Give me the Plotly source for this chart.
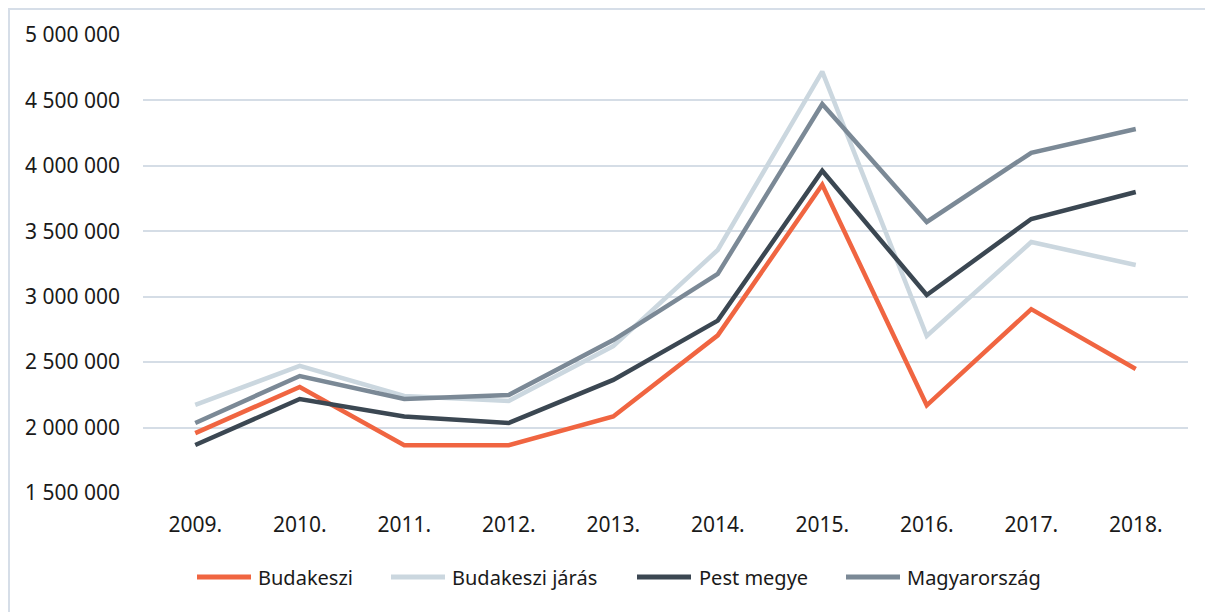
import plotly.graph_objects as go

years = ["2009.", "2010.", "2011.", "2012.", "2013.", "2014.", "2015.", "2016.", "2017.", "2018."]
budakeszi = [1958000, 2310000, 1865000, 1865000, 2085000, 2705000, 3855000, 2170000, 2905000, 2448000]
budakeszi_jaras = [2173000, 2471000, 2241000, 2203000, 2623000, 3357000, 4720000, 2700000, 3418000, 3242000]
pest_megye = [1867000, 2218000, 2085000, 2035000, 2364000, 2817000, 3963000, 3013000, 3594000, 3800000]
magyarorszag = [2035000, 2394000, 2218000, 2249000, 2669000, 3174000, 4473000, 3571000, 4100000, 4282000]

series_names = ["Budakeszi", "Budakeszi járás", "Pest megye", "Magyarország"]
series_values = [budakeszi, budakeszi_jaras, pest_megye, magyarorszag]
series_colors = ["#F06541", "#CBD7DF", "#3B4752", "#7B8996"]

font_family = "Noto Sans"
fig = go.Figure()
for name, vals, col in zip(series_names, series_values, series_colors):
    fig.add_trace(go.Scatter(x=years, y=vals, name=name, mode="lines",
                             line=dict(color=col, width=4.5), showlegend=False))

W, H = 1213, 612
OFF = 8  # default page body margin
# plot area in page pixels: x 143..1188, y 35..493
ml = 143 - OFF
mr = W - (1188 - OFF)
mt = 35 - OFF
mb = H - (493 - OFF)
pw, ph = W - ml - mr, H - mt - mb

def px_x(x):
    return (x - OFF - ml) / pw

def px_y(y):
    return (H - mb - (y - OFF)) / ph

# manual legend (sample line start/end, text start) in page pixels
legend_y = 577
legend_pos = [(197, 251, 256), (391, 445, 450), (637, 691, 697), (846, 900, 905)]
shapes = [dict(type="rect", xref="paper", yref="paper",
               x0=px_x(OFF + 1), x1=px_x(1240), y0=px_y(660), y1=px_y(OFF + 1),
               line=dict(color="#D6DEE8", width=2), fillcolor="rgba(0,0,0,0)",
               layer="below")]
annotations = []
for (x0, x1, tx), name, col in zip(legend_pos, series_names, series_colors):
    shapes.append(dict(type="line", xref="paper", yref="paper",
                       x0=px_x(x0), x1=px_x(x1), y0=px_y(legend_y), y1=px_y(legend_y),
                       line=dict(color=col, width=5)))
    annotations.append(dict(text=name, xref="paper", yref="paper",
                            x=px_x(tx), y=px_y(legend_y), xanchor="left", yanchor="middle",
                            showarrow=False, font=dict(size=20, family=font_family, color="#1a1a1a")))

fig.update_layout(
    width=W, height=H,
    margin=dict(l=ml, r=mr, t=mt, b=mb),
    paper_bgcolor="white", plot_bgcolor="white",
    separators=", ",
    font=dict(family=font_family, size=21, color="#1a1a1a"),
    showlegend=False,
    xaxis=dict(type="category", range=[-0.5, 9.5], showgrid=False, showline=False,
               zeroline=False, ticks="", ticklabelstandoff=17, tickfont=dict(size=21)),
    yaxis=dict(range=[1500000, 5000000], dtick=500000, tick0=0, tickformat=",",
               showgrid=True, gridcolor="#D5DDE6", gridwidth=1.5,
               zeroline=False, showline=False, ticks="",
               ticklabelstandoff=22, tickfont=dict(size=21)),
    shapes=shapes,
    annotations=annotations,
)

fig.write_html("out.html")
